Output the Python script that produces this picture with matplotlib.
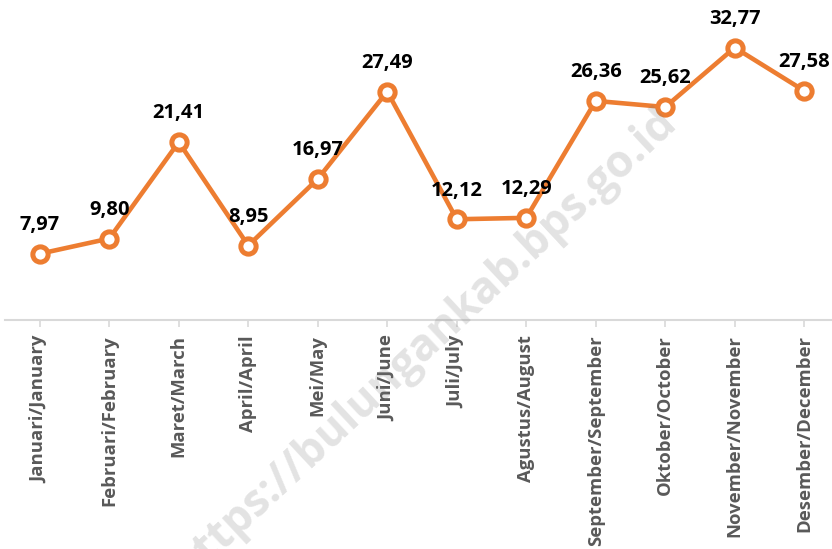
import matplotlib
matplotlib.use('Agg')
import matplotlib.pyplot as plt
from matplotlib import font_manager

# monthly values
months = ['Januari/January', 'Februari/February', 'Maret/March', 'April/April',
          'Mei/May', 'Juni/June', 'Juli/July', 'Agustus/August',
          'September/September', 'Oktober/October', 'November/November',
          'Desember/December']
values = [7.97, 9.80, 21.41, 8.95, 16.97, 27.49, 12.12, 12.29,
          26.36, 25.62, 32.77, 27.58]

orange = '#ED7D31'

# look for a proper (non condensed) Open Sans Bold file
boldfile = None
for f in font_manager.fontManager.ttflist:
    if f.name == 'Open Sans' and f.weight in (700, 'bold') and f.stretch == 'normal' \
            and 'ondensed' not in f.fname and 'Italic' not in f.fname:
        boldfile = f.fname
        break


def bold_font(size):
    if boldfile:
        return font_manager.FontProperties(fname=boldfile, size=size)
    return font_manager.FontProperties(family='DejaVu Sans', weight='bold', size=size * 0.9)


fig = plt.figure(figsize=(8.32, 5.49), dpi=100, facecolor='white')
ax = fig.add_axes([5 / 832, 229 / 549, 827 / 832, 320 / 549])

x = list(range(len(values)))
ax.plot(x, values, color=orange, linewidth=3.3, marker='o', markersize=11,
        markerfacecolor='white', markeredgecolor=orange, markeredgewidth=3.6,
        solid_joinstyle='miter', zorder=3)

for xi, v in zip(x, values):
    label = '{:.2f}'.format(v).replace('.', ',')
    ax.annotate(label, (xi, v), xytext=(0, 17), textcoords='offset points',
                ha='center', va='baseline', fontproperties=bold_font(14.5),
                color='black')

ax.set_xlim(-0.5, 11.4)
ax.set_ylim(0, 38.5)
ax.set_xticks(x)
ax.set_xticklabels(months, rotation=90, fontproperties=bold_font(13.3),
                   color='#595959')
ax.tick_params(axis='x', length=5, width=1.2, color='#d9d9d9', pad=6)
ax.set_yticks([])
for side in ['top', 'right', 'left']:
    ax.spines[side].set_visible(False)
ax.spines['bottom'].set_color('#d9d9d9')
ax.spines['bottom'].set_linewidth(1.5)

# watermark
fig.text(425 / 832, 1 - 345 / 549, 'https://bulungankab.bps.go.id',
         rotation=43, ha='center', va='center', fontproperties=bold_font(32),
         color='#7f7f7f', alpha=0.22, zorder=10)

fig.savefig('out.png', dpi=100)
